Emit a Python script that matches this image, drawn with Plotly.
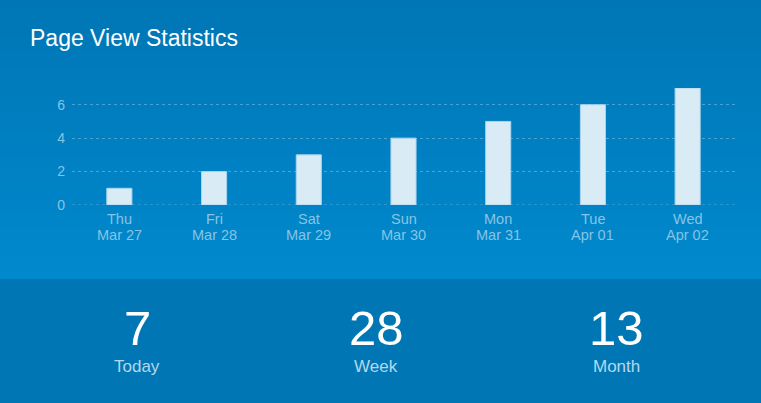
import plotly.graph_objects as go

days = ["Thu", "Fri", "Sat", "Sun", "Mon", "Tue", "Wed"]
dates = ["Mar 27", "Mar 28", "Mar 29", "Mar 30", "Mar 31", "Apr 01", "Apr 02"]
views = [1, 2, 3, 4, 5, 6, 7]
stat_values = ["7", "28", "13"]
stat_labels = ["Today", "Week", "Month"]
y_ticks = [0, 2, 4, 6]

W, H = 761, 403
L, R, T, B = 72, 26, 88, 198  # plot area margins in px
PW = W - L - R
PH = H - T - B
FONT = "Liberation Sans, Arial"
TICK_COLOR = "#86c4e6"


def px_to_paper_x(px):
    return (px - L) / PW


def px_to_paper_y(py):
    return (H - B - py) / PH


def lerp_color(c1, c2, t):
    return "rgb(%d,%d,%d)" % tuple(round(a + (b - a) * t) for a, b in zip(c1, c2))


shapes = []
top_c = (0, 118, 181)
bot_c = (0, 137, 205)
band = 4
grad_end = 279
for y0 in range(0, grad_end, band):
    y1 = min(y0 + band, grad_end)
    t = (y0 + band / 2) / grad_end
    shapes.append(dict(type="rect", xref="paper", yref="paper", layer="below",
                       x0=px_to_paper_x(0), x1=px_to_paper_x(W),
                       y0=px_to_paper_y(y1 + 0.5), y1=px_to_paper_y(y0),
                       fillcolor=lerp_color(top_c, bot_c, t), line_width=0))
shapes.append(dict(type="rect", xref="paper", yref="paper", layer="below",
                   x0=px_to_paper_x(0), x1=px_to_paper_x(W),
                   y0=px_to_paper_y(H), y1=px_to_paper_y(grad_end),
                   fillcolor="#0077b4", line_width=0))
# baseline gridline at 0 (dotted like the others)
shapes.append(dict(type="line", xref="paper", yref="y", layer="below",
                   x0=0, x1=1, y0=0, y1=0,
                   line=dict(color="rgba(160,210,240,0.45)", width=1, dash="dot")))

fig = go.Figure(go.Bar(
    x=days, y=views, width=0.265,
    marker=dict(color="#d9ecf6", line=dict(color="#a9d4ec", width=1)),
    hoverinfo="skip",
))

annotations = [dict(text="Page View Statistics", xref="paper", yref="paper",
                    x=px_to_paper_x(28), y=px_to_paper_y(38), xanchor="left", yanchor="middle",
                    showarrow=False, font=dict(size=23, color="white", family=FONT))]
for d, dt in zip(days, dates):
    annotations.append(dict(text=d, xref="x", yref="paper", x=d, y=px_to_paper_y(219),
                            xanchor="center", yanchor="middle", showarrow=False,
                            font=dict(size=14.5, color=TICK_COLOR, family=FONT)))
    annotations.append(dict(text=dt, xref="x", yref="paper", x=d, y=px_to_paper_y(235),
                            xanchor="center", yanchor="middle", showarrow=False,
                            font=dict(size=14.5, color=TICK_COLOR, family=FONT)))
centers = [137, 376, 616]
for cx, v, lab in zip(centers, stat_values, stat_labels):
    annotations.append(dict(text=v, xref="paper", yref="paper", x=px_to_paper_x(cx), y=px_to_paper_y(328),
                            xanchor="center", yanchor="middle", showarrow=False,
                            font=dict(size=49, color="white", family=FONT)))
    annotations.append(dict(text=lab, xref="paper", yref="paper", x=px_to_paper_x(cx), y=px_to_paper_y(366),
                            xanchor="center", yanchor="middle", showarrow=False,
                            font=dict(size=17, color="#b3d8ee", family=FONT)))

fig.update_layout(
    width=W, height=H,
    margin=dict(l=L, r=R, t=T, b=B, pad=0),
    paper_bgcolor="#0077b4", plot_bgcolor="rgba(0,0,0,0)",
    shapes=shapes, annotations=annotations,
    showlegend=False,
    font=dict(family=FONT, color=TICK_COLOR, size=14),
)
fig.update_xaxes(showgrid=False, zeroline=False, showline=False, ticks="", showticklabels=False,
                 range=[-0.5, 6.5], fixedrange=True)
fig.update_yaxes(range=[0, 7], tickvals=y_ticks, showgrid=True, gridcolor="rgba(160,210,240,0.45)",
                 griddash="dot", gridwidth=1, zeroline=False, showline=False, ticks="",
                 tickfont=dict(size=14, color=TICK_COLOR), ticklabelstandoff=6, fixedrange=True)

fig.write_html("out.html", config={"displayModeBar": False})
